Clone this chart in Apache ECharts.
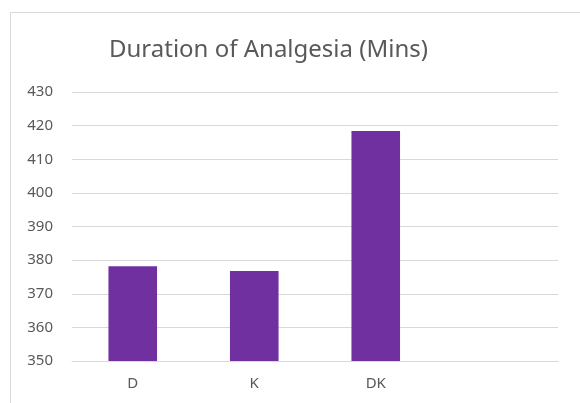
<!DOCTYPE html>
<html><head><meta charset="utf-8">
<script src="https://cdn.jsdelivr.net/npm/echarts@6/dist/echarts.min.js"></script>
<style>html,body{margin:0;padding:0;background:#fff;}#c{width:580px;height:403px;}</style>
</head><body><div id="c"></div>
<script>
const categories = ['D', 'K', 'DK', ''];
const durationValues = [378.2, 376.8, 418.4, null];
const yTicks = [350, 360, 370, 380, 390, 400, 410, 420, 430];
const chartTitle = 'Duration of Analgesia (Mins)';

const chart = echarts.init(document.getElementById('c'), null, {renderer: 'canvas'});
chart.setOption({
  animation: false,
  backgroundColor: '#ffffff',
  graphic: [
    {type: 'rect', shape: {x: 10.5, y: 12.5, width: 700, height: 500}, style: {fill: 'none', stroke: '#d9d9d9', lineWidth: 1}, silent: true},
    {type: 'text', left: 109, top: 38, style: {text: chartTitle, font: '24px "Noto Sans"', fill: '#595959'}}
  ],
  grid: {left: 72, right: 22, top: 92, bottom: 42, containLabel: false},
  xAxis: {
    type: 'category',
    data: categories,
    axisTick: {show: false},
    axisLine: {lineStyle: {color: '#d9d9d9', width: 1}},
    axisLabel: {color: '#595959', fontSize: 15, fontFamily: 'Noto Sans', margin: 15}
  },
  yAxis: {
    type: 'value',
    min: yTicks[0],
    max: yTicks[yTicks.length - 1],
    interval: 10,
    axisLine: {show: false},
    axisTick: {show: false},
    splitLine: {lineStyle: {color: '#d9d9d9', width: 1}},
    axisLabel: {color: '#595959', fontSize: 15, fontFamily: 'Noto Sans', margin: 19}
  },
  series: [{
    type: 'bar',
    data: durationValues,
    barWidth: '40%',
    itemStyle: {color: '#7030a0'}
  }]
});
</script></body></html>
